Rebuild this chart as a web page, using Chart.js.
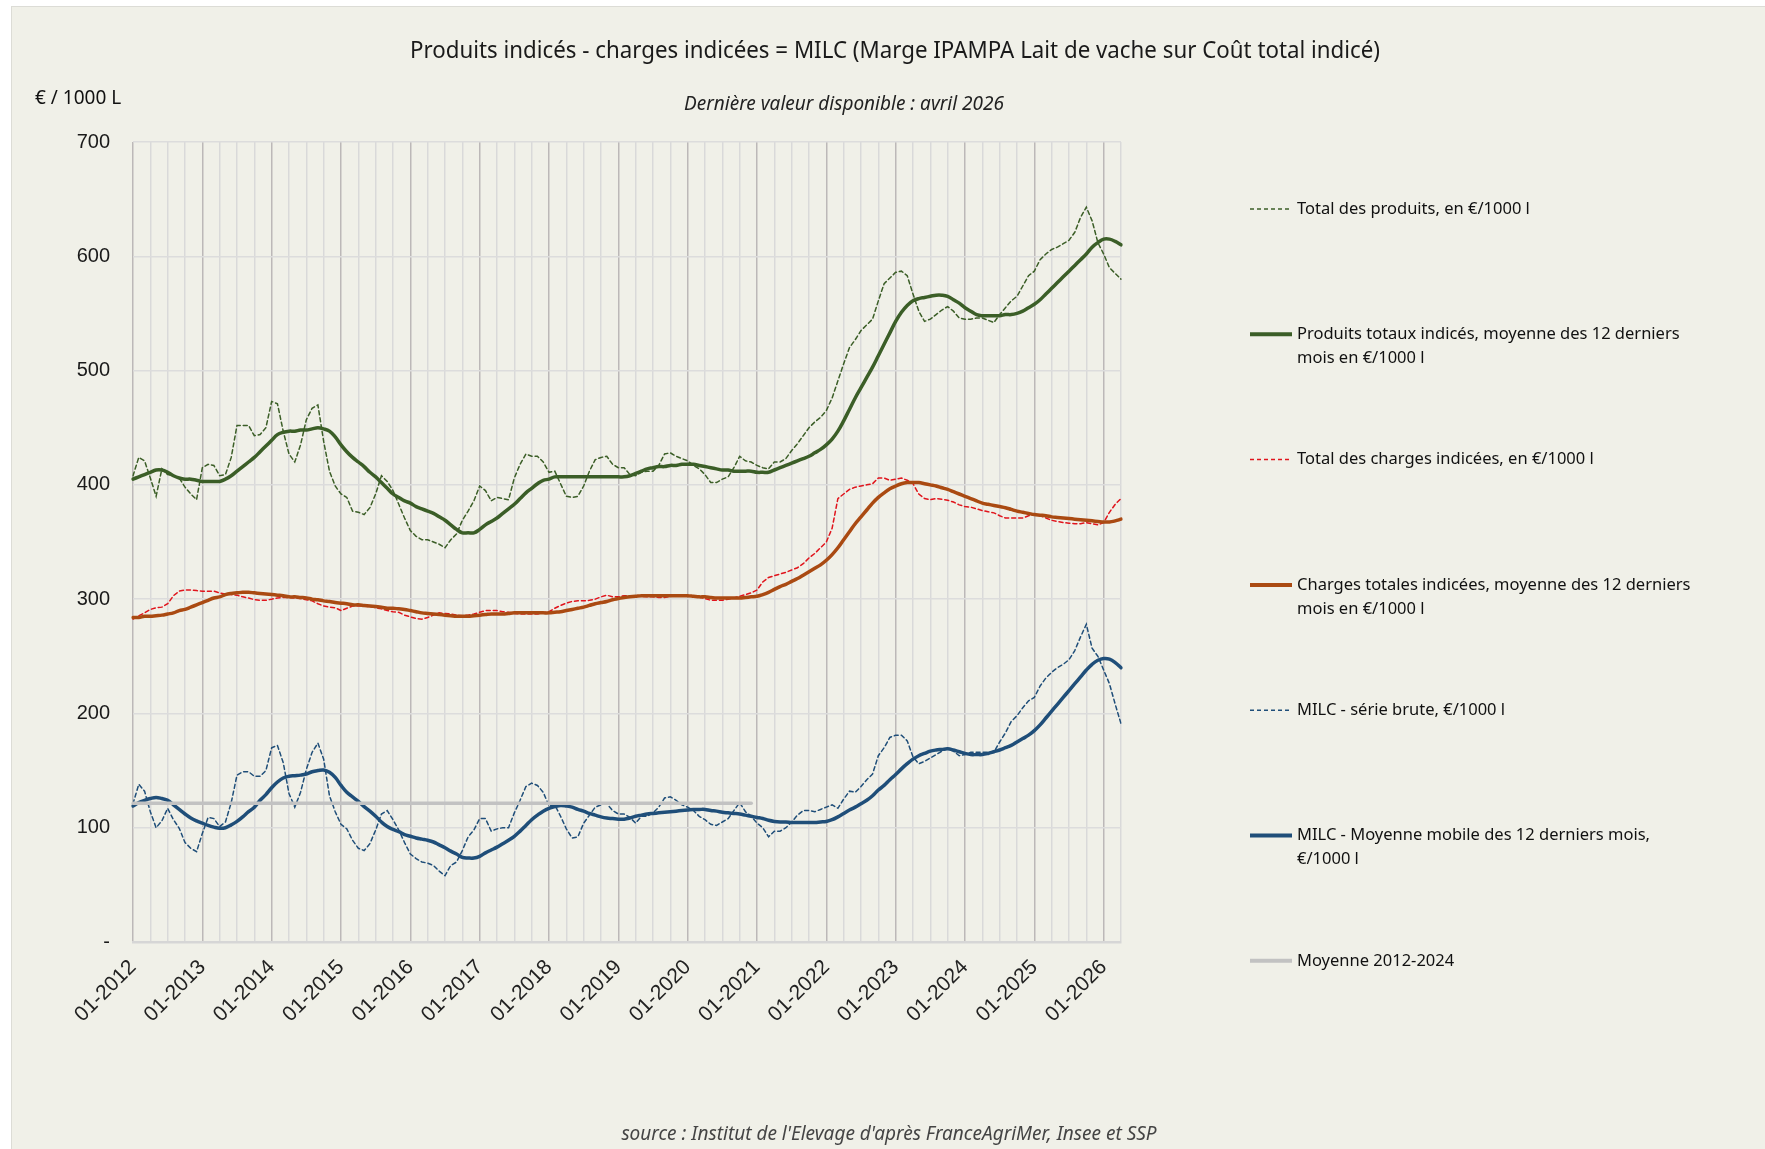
<!DOCTYPE html>
<html lang="fr">
<head>
<meta charset="utf-8">
<title>MILC - produits et charges indicés</title>
<script src="https://cdn.jsdelivr.net/npm/chart.js@4.4.1/dist/chart.umd.min.js"></script>
<style>
  html, body { margin: 0; padding: 0; background: #ffffff; }
  #cadre { position: absolute; left: 11px; top: 6px; width: 1754px; height: 1143px;
           background: #f0f0e8; border-top: 1px solid #dcdcd6; border-left: 1px solid #dcdcd6;
           box-sizing: border-box; }
  #graph { position: absolute; left: 0; top: 0; }
</style>
</head>
<body>
<div id="cadre"></div>
<canvas id="graph" width="1765" height="1149"></canvas>
<script>
// mois de 01-2012 à 04-2026
var mois = [];
for (var a = 2012; a <= 2026; a++) {
  for (var m = 1; m <= 12; m++) {
    if (a === 2026 && m > 4) break;
    mois.push((m < 10 ? '0' + m : '' + m) + '-' + a);
  }
}

// Total des produits, en €/1000 l
var totalProduits = [
  408, 424, 421, 406, 390, 414, 409, 408, 406, 398, 392, 387,
  415, 418, 417, 408, 409, 424, 452, 452, 452, 443, 444, 450,
  473, 471, 447, 427, 420, 435, 457, 467, 470, 438, 412, 399,
  392, 389, 377, 376, 374, 380, 392, 408, 403, 395, 383, 371,
  360, 355, 352, 352, 350, 348, 345, 352, 357, 369, 377, 386,
  399, 395, 386, 389, 388, 387, 406, 418, 427, 425, 425, 420,
  411, 412, 401, 390, 389, 390, 399, 412, 422, 424, 425, 418,
  415, 415, 409, 408, 411, 412, 412, 417, 427, 428, 425, 423,
  421, 417, 414, 409, 402, 402, 405, 407, 415, 425, 421, 420,
  417, 415, 414, 420, 420, 423, 430, 436, 443, 450, 455, 459,
  465, 476, 491, 506, 520, 527, 535, 540, 545, 561, 576, 581,
  586, 587, 583, 567, 552, 543, 545, 549, 553, 556, 552, 546,
  545, 545, 546, 546, 544, 542, 549, 555, 561, 565, 574, 583,
  587, 597, 602, 606, 608, 611, 614, 621, 634, 643, 631, 612,
  602, 590, 585, 580
];

// Produits totaux indicés, moyenne des 12 derniers mois
var produitsMoy12 = [
  405, 407, 409, 411, 413, 413, 411, 408, 406, 405, 405, 404,
  403, 403, 403, 403, 405, 408, 412, 416, 420, 424, 429, 434,
  439, 444, 446, 447, 447, 448, 448, 449, 450, 449, 447, 442,
  435, 429, 424, 420, 416, 411, 407, 402, 397, 392, 389, 386,
  384, 381, 379, 377, 375, 372, 369, 365, 361, 358, 358, 358,
  361, 365, 368, 371, 375, 379, 383, 388, 393, 397, 401, 404,
  405, 407, 407, 407, 407, 407, 407, 407, 407, 407, 407, 407,
  407, 407, 408, 410, 412, 414, 415, 416, 416, 417, 417, 418,
  418, 418, 417, 416, 415, 414, 413, 413, 412, 412, 412, 412,
  411, 411, 411, 413, 415, 417, 419, 421, 423, 425, 428, 431,
  435, 440, 447, 456, 466, 476, 485, 494, 503, 513, 523, 533,
  543, 551, 557, 561, 563, 564, 565, 566, 566, 565, 562, 559,
  555, 552, 549, 548, 548, 548, 548, 549, 549, 550, 552, 555,
  558, 562, 567, 572, 577, 582, 587, 592, 597, 602, 608, 612,
  615, 615, 613, 610
];

// Total des charges indicées, en €/1000 l
var totalCharges = [
  282.5, 285.5, 288, 291, 292.5, 293, 296, 303, 307, 308, 308, 307.5,
  307, 307, 307, 305.5, 304.5, 304, 303.5, 302, 301, 299.5, 299, 299,
  300, 301, 301.5, 301.5, 301, 300.5, 299.5, 298.5, 296, 294, 293, 292.5,
  290, 292, 294, 294, 294, 293.5, 292.5, 291.5, 290, 289, 288.5, 286,
  284.5, 283, 282.5, 284, 286, 288, 287.5, 287, 286, 285.5, 286, 287,
  288.5, 290, 290, 290, 289, 288.5, 287.5, 287, 287, 287, 287, 288,
  289, 292, 294.5, 296.5, 298, 298.5, 298.5, 299, 300, 302, 303.5, 302,
  302, 303, 303, 303, 302.5, 302, 302, 301.5, 301.5, 302.5, 303, 303,
  303, 302.5, 302, 300.5, 299, 299, 299, 300, 301, 302.5, 304, 305.5,
  308, 315, 319, 320.5, 322, 323.5, 325.5, 327.5, 331, 336, 340, 345,
  350, 362, 388, 392, 396, 398, 399, 400, 401, 406, 406, 404,
  405, 406, 404, 401, 392, 388, 387, 388, 387.5, 386.5, 385, 382.5,
  381, 380.5, 379, 377.5, 376.5, 375.5, 373, 371, 371, 371, 371, 373,
  374, 373, 371, 369, 368, 367, 366.5, 366, 366, 367, 366, 365,
  367, 376, 383, 388
];

// Charges totales indicées, moyenne des 12 derniers mois
var chargesMoy12 = [
  284, 284, 285, 285, 285.5, 286, 287, 288, 290, 291, 293, 295,
  297, 299, 301, 302, 304, 305, 305.5, 306, 306, 305.5, 305, 304.5,
  304, 303.5, 303, 302, 302, 301.5, 301, 300, 299.5, 298.5, 298, 297,
  296.5, 296, 295, 295, 294.5, 294, 293.5, 293, 292, 292, 291.5, 291,
  290, 289, 288, 287.5, 287, 286.5, 286, 285.5, 285, 285, 285, 285.5,
  286, 286.5, 287, 287, 287, 287.5, 288, 288, 288, 288, 288, 288,
  288, 288.5, 289, 290, 291, 292, 293, 294.5, 296, 297, 298, 299.5,
  300.5, 301.5, 302, 302.5, 303, 303, 303, 303, 303, 303, 303, 303,
  303, 302.5, 302, 302, 301.5, 301, 301, 301, 301, 301, 301.5, 302,
  302.5, 304, 306, 308.5, 311, 313, 315.5, 318, 321, 324, 327, 330,
  334, 339, 345, 352, 359, 366, 372, 378, 384, 389, 393, 396.5,
  399, 401, 402, 402, 402, 401, 400, 399, 397.5, 396, 394, 392,
  390, 388, 386, 384, 383, 382, 381, 380, 378.5, 377, 376, 375,
  374, 373.5, 373, 372, 371.5, 371, 370.5, 370, 369.5, 369, 368.5, 368,
  367.5, 367.5, 368.5, 370
];

// MILC - série brute
var milcBrut = [
  121, 138, 132, 114, 100, 106, 117, 107, 99.5, 87, 82, 79,
  95, 109, 108, 101, 105, 122, 146, 149, 149, 145, 145, 150,
  170, 172, 157, 130, 118, 131, 151, 166, 174, 160, 128, 114,
  103, 99, 89, 82, 80, 86, 98, 112, 115, 107, 98, 87,
  77, 73, 70, 69, 67, 62, 58, 67, 70, 80, 92, 98,
  108, 108, 97, 99, 100, 100, 113, 124, 136, 139, 137, 131,
  119, 120, 110, 99, 91, 92, 104, 111, 118, 120, 121, 115,
  112, 112, 109, 104, 110, 110, 113, 118, 126, 127, 124, 120,
  118, 115, 110, 107, 103, 102, 105, 108, 115, 122, 114, 110,
  104, 100, 92, 97, 97, 100, 105, 111, 115, 115, 114, 116,
  118, 120, 117, 125, 132, 131, 136, 142, 147, 163, 170, 179,
  181, 181, 176, 162, 156, 158, 161, 164, 167, 169, 167, 163,
  164, 166, 166, 166, 166, 166, 175, 183, 193, 198, 205, 211,
  214, 224, 231, 236, 240, 243, 247, 255, 267, 278, 257, 250,
  238, 226, 208, 191
];

// MILC - moyenne mobile des 12 derniers mois
var milcMoy12 = [
  119, 122, 124, 125.5, 126.5, 125.5, 124, 120, 116, 112, 108.5, 106,
  104, 102, 100.5, 99.5, 100, 102.5, 105.5, 109.5, 114, 118, 124, 129,
  135, 140, 143.5, 145, 145.5, 146, 147, 149, 150, 150.5, 148.5, 144,
  137, 131, 127, 123, 118.5, 114.5, 110, 105, 101, 98.5, 96.5, 94,
  92.5, 91, 90, 89, 87.5, 85, 82.5, 79.5, 77, 74, 73.5, 73.5,
  75, 78, 80.5, 83, 86, 89, 92.5, 97, 102, 107, 111, 114.5,
  117, 118.5, 119.5, 119, 118, 116, 114.5, 112.5, 111, 109.5, 108.5, 108,
  107.5, 107.5, 108.5, 110, 111, 112, 112.5, 113, 113.5, 114, 114.5, 115,
  115.5, 116, 116, 116, 115, 114.5, 113.5, 113, 112.5, 112, 111, 110,
  109, 108, 106.5, 105.5, 105, 105, 104.5, 104.5, 104.5, 104.5, 104.5, 105,
  105.5, 107, 109.5, 112.5, 115.5, 118, 121, 124, 128, 133, 137, 142,
  146.5, 151.5, 156, 160, 163, 165, 167, 168, 168.5, 169, 168, 166.5,
  165, 164, 164, 164, 165, 166.5, 168, 170, 172, 175, 178, 181,
  185, 190, 196, 202, 208, 214, 220, 226, 232, 238, 243, 246.5,
  248, 247.5, 244.5, 240
];

// Moyenne 2012-2024 du MILC (tracée de 01-2012 à 12-2020)
var moyenneMilc = [
  { x: '01-2012', y: 121.5 },
  { x: '12-2020', y: 121.5 }
];

var nomsSeries = [
  ['Total des produits, en €/1000 l'],
  ['Produits totaux indicés, moyenne des 12 derniers', 'mois en €/1000 l'],
  ['Total des charges indicées, en €/1000 l'],
  ['Charges totales indicées, moyenne des 12 derniers', 'mois en €/1000 l'],
  ['MILC - série brute, €/1000 l'],
  ['MILC - Moyenne mobile des 12 derniers mois,', '€/1000 l'],
  ['Moyenne 2012-2024']
];

var vert = '#3b5e27', rouge = '#e0141c', brun = '#aa4a12', bleu = '#1f4e79', gris = '#c2c2c2';
var policeAxe = '"Liberation Sans", Arial, sans-serif';
var policeTexte = '"Noto Sans", "Open Sans", sans-serif';

// titres, légende et source dessinés sur le canvas
var decor = {
  id: 'decor',
  afterDraw: function(chart) {
    var c = chart.ctx;
    c.save();
    c.textBaseline = 'middle';
    c.fillStyle = '#1a1a1a';
    c.textAlign = 'center';
    c.font = '24px ' + policeTexte;
    c.fillText('Produits indicés - charges indicées = MILC (Marge IPAMPA Lait de vache sur Coût total indicé)', 895, 51, 970);
    c.font = 'italic 19px ' + policeTexte;
    c.fillStyle = '#222';
    c.fillText('Dernière valeur disponible : avril 2026', 844, 105, 320);
    c.fillStyle = '#444';
    c.fillText("source : Institut de l'Elevage d'après FranceAgriMer, Insee et SSP", 889, 1135, 548);

    c.textAlign = 'left';
    c.fillStyle = '#111';
    c.font = '19px ' + policeTexte;
    c.fillText('€ / 1000 L', 35, 99);

    // légende
    c.font = '16.5px ' + policeTexte;
    chart.data.datasets.forEach(function(ds, i) {
      var y = 209 + i * 125.3;
      c.strokeStyle = ds.borderColor;
      c.lineWidth = ds.borderDash ? 1.5 : 4;
      c.setLineDash(ds.borderDash || []);
      c.beginPath();
      c.moveTo(1250, y);
      c.lineTo(1292, y);
      c.stroke();
      c.setLineDash([]);
      c.fillStyle = '#111';
      nomsSeries[i].forEach(function(ligne, k) {
        c.fillText(ligne, 1297, y + k * 24);
      });
    });
    c.restore();
  }
};

var ctx = document.getElementById('graph').getContext('2d');
var chart = new Chart(ctx, {
  type: 'line',
  data: {
    labels: mois,
    datasets: [
      { label: nomsSeries[0].join(' '), data: totalProduits, borderColor: vert, borderWidth: 1.5, borderDash: [4, 3], order: 3 },
      { label: nomsSeries[1].join(' '), data: produitsMoy12, borderColor: vert, borderWidth: 3.5, order: 1, tension: 0.4 },
      { label: nomsSeries[2].join(' '), data: totalCharges, borderColor: rouge, borderWidth: 1.5, borderDash: [4, 3], order: 3 },
      { label: nomsSeries[3].join(' '), data: chargesMoy12, borderColor: brun, borderWidth: 3.5, order: 1, tension: 0.4 },
      { label: nomsSeries[4].join(' '), data: milcBrut, borderColor: bleu, borderWidth: 1.5, borderDash: [4, 3], order: 3 },
      { label: nomsSeries[5].join(' '), data: milcMoy12, borderColor: bleu, borderWidth: 3.5, order: 1, tension: 0.4 },
      { label: nomsSeries[6].join(' '), data: moyenneMilc, borderColor: gris, borderWidth: 3.5, order: 0 }
    ]
  },
  options: {
    responsive: false,
    animation: false,
    layout: { padding: { left: 11, top: 142, right: 644, bottom: 0 } },
    elements: { point: { radius: 0 }, line: { fill: false, borderCapStyle: 'round' } },
    plugins: {
      legend: { display: false },
      title: { display: false },
      tooltip: { enabled: false }
    },
    scales: {
      x: {
        ticks: {
          autoSkip: false, minRotation: 45, maxRotation: 45, padding: 13,
          color: '#222', font: { family: policeAxe, size: 21 },
          callback: function(v, i) { return i % 12 === 0 ? mois[i] : ''; }
        },
        grid: {
          drawTicks: false,
          color: function(c) {
            if (c.index % 12 === 0) return '#bcb8b8';
            if (c.index % 3 === 0) return '#d9d9d9';
            return 'rgba(0,0,0,0)';
          },
          lineWidth: 1.5
        },
        border: { display: true, color: '#d6d6d6', width: 2.5 },
        afterCalculateLabelRotation: function(s) { s.labelRotation = 45; },
        afterFit: function(s) { s.height = 1149 - 942; s.paddingLeft = 0; s.paddingRight = 0; }
      },
      y: {
        min: 0, max: 700,
        ticks: {
          stepSize: 100, padding: 23, color: '#1a1a1a',
          font: { family: policeAxe, size: 20 },
          callback: function(v) { return v === 0 ? '-' : v; }
        },
        grid: { drawTicks: false, color: '#dcdcdc', lineWidth: 1.5 },
        border: { display: false },
        afterFit: function(s) { s.width = 133 - 11; s.paddingTop = 0; s.paddingBottom = 0; }
      }
    }
  },
  plugins: [decor]
});
</script>
</body>
</html>
